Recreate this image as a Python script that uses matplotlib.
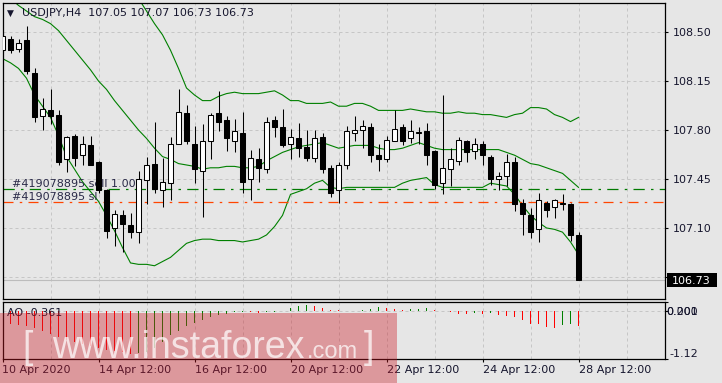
import numpy as np
import matplotlib.pyplot as plt
import matplotlib.transforms as mtrans
from matplotlib.patches import Rectangle

# USDJPY H4 candles, first bar = 10 Apr 2020 12:00
opens = [108.37, 108.45, 108.38, 108.44, 108.21, 107.90, 107.94, 107.91, 107.59, 107.76,
         107.62, 107.69, 107.57, 107.37, 107.10, 107.19, 107.12, 107.07, 107.44, 107.56,
         107.37, 107.42, 107.70, 107.92, 107.70, 107.51, 107.72, 107.92, 107.87, 107.72,
         107.78, 107.45, 107.59, 107.52, 107.87, 107.82, 107.70, 107.74, 107.68, 107.60,
         107.75, 107.53, 107.37, 107.55, 107.78, 107.80, 107.82, 107.62, 107.59, 107.72,
         107.82, 107.74, 107.78, 107.79, 107.65, 107.42, 107.52, 107.58, 107.72, 107.65,
         107.70, 107.61, 107.45, 107.47, 107.57, 107.28, 107.19, 107.09, 107.28, 107.25,
         107.28, 107.27, 107.05]
highs = [108.49, 108.47, 108.45, 108.54, 108.24, 108.03, 108.09, 107.94, 107.76, 107.77,
         107.76, 107.76, 107.58, 107.38, 107.23, 107.23, 107.21, 107.51, 107.61, 107.86,
         107.60, 107.75, 108.09, 107.98, 107.83, 107.84, 107.92, 108.08, 107.90, 107.88,
         107.93, 107.66, 107.67, 107.89, 107.90, 107.95, 107.81, 107.85, 107.80, 107.80,
         107.78, 107.55, 107.57, 107.83, 107.90, 107.87, 107.85, 107.70, 107.76, 107.94,
         107.84, 107.87, 107.82, 107.85, 107.66, 108.05, 107.67, 107.75, 107.73, 107.74,
         107.72, 107.62, 107.50, 107.63, 107.61, 107.31, 107.24, 107.35, 107.29, 107.31,
         107.34, 107.28, 107.07]
lows = [108.36, 108.35, 108.36, 108.20, 107.86, 107.80, 107.84, 107.55, 107.50, 107.54,
        107.55, 107.55, 107.35, 107.03, 106.97, 106.93, 107.03, 106.99, 107.27, 107.35,
        107.25, 107.30, 107.70, 107.70, 107.42, 107.18, 107.59, 107.79, 107.65, 107.64,
        107.35, 107.30, 107.43, 107.49, 107.75, 107.68, 107.59, 107.61, 107.58, 107.57,
        107.49, 107.32, 107.28, 107.52, 107.72, 107.67, 107.57, 107.51, 107.57, 107.72,
        107.69, 107.71, 107.70, 107.55, 107.38, 107.34, 107.40, 107.55, 107.57, 107.59,
        107.55, 107.41, 107.37, 107.40, 107.22, 107.05, 107.03, 107.00, 107.18, 107.17,
        107.23, 107.01, 106.73]
closes = [108.47, 108.37, 108.42, 108.22, 107.89, 107.95, 107.90, 107.57, 107.75, 107.60,
          107.70, 107.55, 107.37, 107.08, 107.20, 107.13, 107.07, 107.45, 107.55, 107.38,
          107.43, 107.70, 107.93, 107.72, 107.52, 107.72, 107.91, 107.86, 107.74, 107.79,
          107.43, 107.60, 107.53, 107.86, 107.82, 107.69, 107.75, 107.67, 107.60, 107.74,
          107.52, 107.35, 107.55, 107.79, 107.80, 107.83, 107.62, 107.59, 107.73, 107.81,
          107.72, 107.79, 107.78, 107.62, 107.41, 107.53, 107.59, 107.73, 107.64, 107.70,
          107.62, 107.45, 107.47, 107.57, 107.27, 107.20, 107.07, 107.30, 107.23, 107.30,
          107.27, 107.05, 106.73]

# Bollinger bands (upper band is above the window until bar 17)
bb_upper = [np.nan] * 17 + [
    108.74, 108.65, 108.56, 108.48, 108.37, 108.24, 108.10, 108.05, 108.01, 108.01,
    108.04, 108.06, 108.07, 108.06, 108.06, 108.06, 108.07, 108.08, 108.05, 108.01,
    108.01, 107.99, 107.99, 107.99, 108.00, 107.97, 107.97, 107.99, 107.99, 107.97,
    107.94, 107.94, 107.94, 107.94, 107.95, 107.94, 107.93, 107.93, 107.92, 107.92,
    107.93, 107.92, 107.92, 107.91, 107.91, 107.90, 107.89, 107.91, 107.92, 107.96,
    107.96, 107.95, 107.91, 107.89, 107.86, 107.89]
bb_mid = [108.77, 108.74, 108.69, 108.65, 108.61, 108.59, 108.56, 108.51, 108.44, 108.37,
          108.30, 108.23, 108.15, 108.09, 108.01, 107.94, 107.87, 107.80, 107.74, 107.67,
          107.61, 107.59, 107.56, 107.55, 107.54, 107.52, 107.53, 107.53, 107.54, 107.54,
          107.53, 107.53, 107.54, 107.58, 107.61, 107.64, 107.66, 107.68, 107.69, 107.70,
          107.71, 107.69, 107.67, 107.68, 107.69, 107.69, 107.69, 107.67, 107.66, 107.66,
          107.67, 107.69, 107.71, 107.69, 107.67, 107.66, 107.66, 107.66, 107.66, 107.66,
          107.66, 107.66, 107.66, 107.64, 107.62, 107.59, 107.56, 107.55, 107.53, 107.51,
          107.49, 107.44, 107.39]
bb_lower = [108.31, 108.28, 108.24, 108.17, 108.05, 107.97, 107.89, 107.76, 107.61, 107.52,
            107.43, 107.36, 107.29, 107.19, 107.08, 106.96, 106.85, 106.84, 106.84, 106.83,
            106.86, 106.89, 106.94, 106.99, 107.01, 107.02, 107.02, 107.01, 107.01, 107.01,
            107.00, 107.01, 107.02, 107.05, 107.11, 107.19, 107.34, 107.36, 107.38, 107.42,
            107.44, 107.39, 107.38, 107.39, 107.39, 107.39, 107.39, 107.39, 107.39, 107.39,
            107.42, 107.44, 107.45, 107.46, 107.41, 107.39, 107.39, 107.39, 107.39, 107.39,
            107.39, 107.42, 107.41, 107.40, 107.34, 107.26, 107.19, 107.14, 107.10, 107.09,
            107.07, 107.00, 106.91]

# Awesome Oscillator
ao = [-0.29, -0.30, -0.33, -0.36, -0.41, -0.48, -0.55, -0.61, -0.67, -0.73,
      -0.77, -0.82, -0.87, -0.90, -0.94, -0.96, -1.00, -0.99, -0.95, -0.86,
      -0.72, -0.57, -0.46, -0.36, -0.28, -0.22, -0.15, -0.11, -0.08, -0.04,
      -0.02, -0.03, -0.05, -0.04, -0.03, -0.01, 0.06, 0.10, 0.12, 0.10,
      0.06, 0.02, 0.01, -0.01, 0.00, 0.01, 0.04, 0.08, 0.06, 0.04,
      0.02, 0.03, 0.05, 0.06, 0.01, -0.01, -0.04, -0.07, -0.08, -0.05,
      -0.07, -0.05, -0.09, -0.12, -0.15, -0.22, -0.31, -0.32, -0.37, -0.39,
      -0.34, -0.31, -0.361]
ao_min, ao_max = -1.12, 0.201

sell_level = 107.376
sl_level = 107.286

date_pos = [0, 12, 24, 36, 48, 60, 72]
date_labels = ['10 Apr 2020', '14 Apr 12:00', '16 Apr 12:00', '20 Apr 12:00',
               '22 Apr 12:00', '24 Apr 12:00', '28 Apr 12:00']
price_ticks = [106.75, 107.10, 107.45, 107.80, 108.15, 108.50]

W, H = 722, 383
bg = '#e6e6e6'
ink = '#16162e'
grid_kw = dict(color='#c6c6c6', linestyle=(0, (3, 3)), linewidth=0.72)

fig = plt.figure(figsize=(W / 100, H / 100), dpi=100)
fig.patch.set_facecolor(bg)


def px_axes(l, t, r, b):
    return fig.add_axes([l / W, 1 - b / H, (r - l) / W, (b - t) / H])


ax = px_axes(2.5, 2.5, 665, 298.5)
ax2 = px_axes(2.5, 302, 665, 359)
for a in (ax, ax2):
    a.set_facecolor(bg)
    a.set_xlim(0.0, 82.81)
    for s in a.spines.values():
        s.set_linewidth(0.9)
        s.set_color('black')
    a.set_axisbelow(True)

# --- price panel
o = np.array(opens)
c = np.array(closes)
idx = np.arange(len(o))
up = c >= o
body_lo = np.minimum(o, c)
body_h = np.maximum(np.abs(c - o), 0.004)

ax.axhline(closes[-1], color='#bcbcbc', linewidth=0.8, zorder=1)
ax.plot(idx, bb_upper, color='#008000', linewidth=0.8, zorder=2)
ax.plot(idx, bb_mid, color='#008000', linewidth=0.8, zorder=2)
ax.plot(idx, bb_lower, color='#008000', linewidth=0.8, zorder=2)
ax.axhline(sell_level, color='#007a00', linewidth=0.9, linestyle=(0, (9, 5, 2, 5)), zorder=2)
ax.axhline(sl_level, color='#ff4500', linewidth=0.9, linestyle=(0, (8, 5, 2, 5)), zorder=2)

blend = mtrans.blended_transform_factory(ax.transAxes, ax.transData)
ax.text(0.0143, sell_level, '#419078895 sell 1.00', transform=blend, fontsize=8,
        color='#2a2a48', ha='left', va='bottom', zorder=2)
ax.text(0.0143, sl_level, '#419078895 sl', transform=blend, fontsize=8,
        color='#2a2a48', ha='left', va='bottom', zorder=2)

ax.vlines(idx, lows, highs, color='black', linewidth=0.75, zorder=3)
ax.bar(idx, body_h, bottom=body_lo, width=0.56, color=np.where(up, 'white', 'black'),
       edgecolor='black', linewidth=0.75, zorder=4)

ax.set_ylim(106.596, 108.711)
ax.set_xticks(np.arange(0, 83, 6))
ax.tick_params(axis='x', length=0, labelbottom=False)
ax.yaxis.tick_right()
ax.set_yticks(price_ticks)
ax.set_yticklabels([''] + ['%.2f' % p for p in price_ticks[1:]])
ax.tick_params(axis='y', length=2.5, width=0.8, pad=3, labelsize=8, colors='black',
               labelcolor=ink)
ax.grid(True, **grid_kw)

# last price box on the right scale
fig.canvas.draw()
yd = ax.transData.transform((0, closes[-1]))[1]
fig.add_artist(Rectangle((666.5 / W, (yd - 7) / H), 50 / W, 14 / H, transform=fig.transFigure,
                         facecolor='black', edgecolor='none'))
fig.text(672 / W, yd / H, '%.2f' % closes[-1], color='white', fontsize=8, ha='left',
         va='center_baseline')

# title
fig.text(6.5 / W, 1 - 13 / H, '\u25bc', fontsize=6.5, color=ink, ha='left', va='center')
fig.text(21.5 / W, 1 - 13 / H, 'USDJPY,H4  107.05 107.07 106.73 106.73', fontsize=8,
         color=ink, ha='left', va='center')

# --- AO panel
ao_arr = np.array(ao)
ao_col = ['#ff0000'] + ['#008000' if ao_arr[k] > ao_arr[k - 1] else '#ff0000'
                        for k in range(1, len(ao_arr))]
ax2.bar(idx, ao_arr, width=0.14, color=ao_col, linewidth=0, zorder=3)
ax2.set_ylim(ao_min, ao_max)
ax2.axhline(0, **grid_kw, zorder=1)
ax2.set_xticks(date_pos)
ax2.set_xticklabels(date_labels)
ax2.set_xticks(np.arange(0, 83, 6), minor=True)
for lab in ax2.get_xticklabels():
    lab.set_horizontalalignment('left')
ax2.tick_params(axis='x', which='major', length=2.5, width=0.8, pad=1.5, labelsize=8,
                labelcolor=ink)
ax2.tick_params(axis='x', which='minor', length=0)
ax2.xaxis.grid(True, which='both', **grid_kw)
ax2.yaxis.tick_right()
ax2.set_yticks([ao_min, 0, ao_max])
ax2.set_yticklabels([])
ax2.tick_params(axis='y', length=2.5, width=0.8)

blend2 = mtrans.blended_transform_factory(ax2.transAxes, ax2.transData)
ax2.text(1.002, 0, '0.201', transform=blend2, fontsize=8, color=ink, ha='left',
         va='center_baseline')
ax2.text(1.002, 0, '0.000', transform=blend2, fontsize=8, color=ink, ha='left',
         va='center_baseline')
ax2.text(1.006, ao_min, '-1.12', transform=blend2, fontsize=8, color=ink, ha='left',
         va='bottom')
ax2.text(0.0072, 0.80, 'AO -0.361', transform=ax2.transAxes, fontsize=8, color=ink,
         ha='left', va='center')

# --- watermark
fig.add_artist(Rectangle((0, 0), 397 / W, (383 - 312.7) / H, transform=fig.transFigure,
                         facecolor=(0.80, 0.10, 0.14), alpha=0.38, edgecolor='none', zorder=10))
wm = dict(color='white', alpha=0.72, family='Liberation Sans', va='baseline', zorder=11)
fig.text(22 / W, 1 - 358 / H, '[', fontsize=27, **wm)
fig.text(52 / W, 1 - 358 / H, 'www.instaforex', fontsize=27, **wm)
fig.text(307 / W, 1 - 358 / H, '.com', fontsize=17, **wm)
fig.text(364 / W, 1 - 358 / H, ']', fontsize=27, **wm)

fig.savefig('out.png', dpi=100, facecolor=bg)
